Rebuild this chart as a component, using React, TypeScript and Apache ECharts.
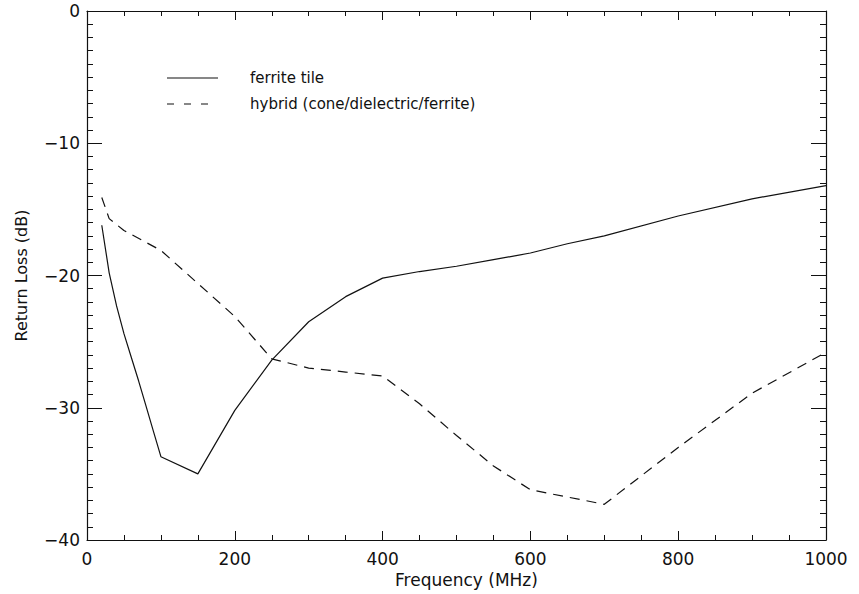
import React, { useEffect, useRef } from "react";
import * as echarts from "echarts";

// Return loss measurements, frequency in MHz, loss in dB
const ferriteFreq = [20, 30, 40, 50, 60, 70, 80, 90, 100, 150, 200, 250, 300, 350, 400, 450, 500, 550, 600, 650, 700, 800, 900, 1000];
const ferriteLoss = [-16.2, -19.8, -22.3, -24.4, -26.2, -28.0, -29.9, -31.8, -33.7, -35.0, -30.2, -26.4, -23.5, -21.6, -20.2, -19.7, -19.3, -18.8, -18.3, -17.6, -17.0, -15.5, -14.2, -13.2];

const hybridFreq = [20, 30, 50, 100, 150, 200, 250, 300, 350, 400, 450, 500, 550, 600, 700, 800, 900, 1000];
const hybridLoss = [-14.1, -15.7, -16.6, -18.1, -20.6, -23.1, -26.3, -27.0, -27.3, -27.6, -29.7, -32.1, -34.4, -36.2, -37.3, -33.0, -28.9, -25.8];

const seriesNames = ["ferrite tile", "hybrid (cone/dielectric/ferrite)"];
const xTitle = "Frequency (MHz)";
const yTitle = "Return Loss (dB)";

const FONT = "'DejaVu Sans', 'Liberation Sans', sans-serif";
const INK = "#111";

const pairs = (xs: number[], ys: number[]) => xs.map((x, i) => [x, ys[i]]);

const fmtX = (v: number) => String(v);
const fmtY = (v: number) => (v < 0 ? "\u2212" + Math.abs(v) : String(v));

export default function App() {
  const ref = useRef<HTMLDivElement>(null);

  useEffect(() => {
    if (!ref.current) return;
    const chart = echarts.init(ref.current, undefined, { renderer: "svg" });

    const axisLine = { show: true, onZero: false, lineStyle: { color: INK, width: 1.2 } };

    const xBase = {
      type: "value" as const,
      min: 0,
      max: 1000,
      interval: 200,
      axisLine,
      splitLine: { show: false },
      axisTick: { show: true, inside: true, length: 9, lineStyle: { color: INK, width: 1 } },
      minorTick: { show: true, splitNumber: 4, length: 5, lineStyle: { color: INK, width: 1 } },
    };
    const yBase = {
      type: "value" as const,
      min: -40,
      max: 0,
      interval: 10,
      axisLine,
      splitLine: { show: false },
      axisTick: { show: true, inside: true, length: 15, lineStyle: { color: INK, width: 1 } },
      minorTick: { show: true, splitNumber: 10, length: 6, lineStyle: { color: INK, width: 1 } },
    };

    chart.setOption({
      animation: false,
      backgroundColor: "#fff",
      grid: { left: 87, right: 33, top: 11, bottom: 54, containLabel: false },
      xAxis: [
        {
          ...xBase,
          position: "bottom",
          name: xTitle,
          nameLocation: "middle",
          nameGap: 30,
          nameTextStyle: { fontFamily: FONT, fontSize: 17, color: INK, padding: [0, 0, 0, 20] },
          axisLabel: { show: true, margin: 10, fontFamily: FONT, fontSize: 17, color: INK, formatter: fmtX },
        },
        {
          ...xBase,
          position: "top",
          axisLabel: { show: false },
        },
      ],
      yAxis: [
        {
          ...yBase,
          position: "left",
          name: yTitle,
          nameLocation: "middle",
          nameGap: 58,
          nameRotate: 90,
          nameTextStyle: { fontFamily: FONT, fontSize: 16, color: INK },
          axisLabel: { show: true, margin: 7, fontFamily: FONT, fontSize: 17, color: INK, formatter: fmtY },
        },
        {
          ...yBase,
          position: "right",
          axisLabel: { show: false },
        },
      ],
      series: [
        {
          name: seriesNames[0],
          type: "line",
          xAxisIndex: 0,
          yAxisIndex: 0,
          data: pairs(ferriteFreq, ferriteLoss),
          symbol: "none",
          lineStyle: { color: INK, width: 1.2, type: "solid" },
        },
        {
          name: seriesNames[1],
          type: "line",
          xAxisIndex: 0,
          yAxisIndex: 0,
          data: pairs(hybridFreq, hybridLoss),
          symbol: "none",
          lineStyle: { color: INK, width: 1.2, type: [10, 7] },
        },
      ],
      graphic: [
        {
          type: "line",
          shape: { x1: 167, y1: 78, x2: 218, y2: 78 },
          style: { stroke: INK, lineWidth: 1.2 },
        },
        {
          type: "line",
          shape: { x1: 167, y1: 104, x2: 218, y2: 104 },
          style: { stroke: INK, lineWidth: 1.2, lineDash: [7, 10] },
        },
        {
          type: "text",
          x: 250,
          y: 78,
          style: { text: seriesNames[0], fontFamily: FONT, fontSize: 15, fill: INK, verticalAlign: "middle" },
        },
        {
          type: "text",
          x: 250,
          y: 104,
          style: { text: seriesNames[1], fontFamily: FONT, fontSize: 15, fill: INK, verticalAlign: "middle" },
        },
      ],
    });

    return () => chart.dispose();
  }, []);

  return (
    <div
      ref={ref}
      style={{ position: "fixed", left: 0, top: 0, width: 859, height: 594, background: "#fff" }}
    />
  );
}
